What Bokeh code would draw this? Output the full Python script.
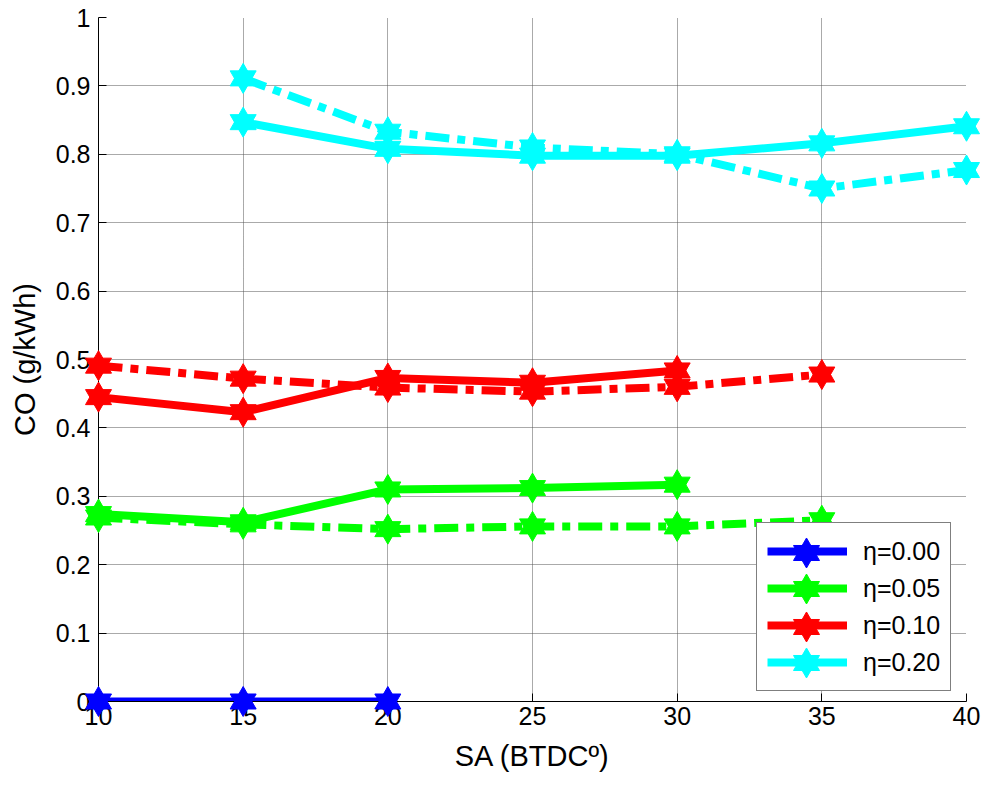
from bokeh.plotting import figure
from bokeh.models import (FixedTicker, CustomJSTickFormatter, Legend, LegendItem, Range1d)
from bokeh.embed import file_html
from bokeh.resources import INLINE

# Axis ticks
x_ticks = [10, 15, 20, 25, 30, 35, 40]
y_ticks = [0, 0.1, 0.2, 0.3, 0.4, 0.5, 0.6, 0.7, 0.8, 0.9, 1.0]

# CO emissions (g/kWh) against spark advance (BTDC deg) for each eta
eta00_solid_x = [10, 15, 20]
eta00_solid_y = [0.0, 0.0, 0.0]

eta05_solid_x = [10, 15, 20, 25, 30]
eta05_solid_y = [0.274, 0.262, 0.310, 0.312, 0.317]
eta05_dash_x = [10, 15, 20, 25, 30, 35]
eta05_dash_y = [0.269, 0.259, 0.252, 0.256, 0.256, 0.265]

eta10_solid_x = [10, 15, 20, 25, 30]
eta10_solid_y = [0.445, 0.423, 0.473, 0.466, 0.484]
eta10_dash_x = [10, 15, 20, 25, 30, 35]
eta10_dash_y = [0.491, 0.472, 0.459, 0.453, 0.460, 0.478]

eta20_solid_x = [15, 20, 25, 30, 35, 40]
eta20_solid_y = [0.847, 0.808, 0.798, 0.798, 0.816, 0.841]
eta20_dash_x = [15, 20, 25, 30, 35, 40]
eta20_dash_y = [0.911, 0.833, 0.810, 0.800, 0.750, 0.777]

labels = ["\u03b7=0.00", "\u03b7=0.05", "\u03b7=0.10", "\u03b7=0.20"]
colors = ["#0000ff", "#00ff00", "#ff0000", "#00ffff"]

series = [
    (eta00_solid_x, eta00_solid_y, None, None),
    (eta05_solid_x, eta05_solid_y, eta05_dash_x, eta05_dash_y),
    (eta10_solid_x, eta10_solid_y, eta10_dash_x, eta10_dash_y),
    (eta20_solid_x, eta20_solid_y, eta20_dash_x, eta20_dash_y),
]

FONT = "Liberation Sans"
LW = 8
MSIZE = 26
DASHDOT = "24 8 8 8"

p = figure(frame_width=868, frame_height=684,
           min_border_left=98, min_border_right=21,
           min_border_top=17, min_border_bottom=86,
           x_range=Range1d(10, 40), y_range=Range1d(0, 1),
           output_backend="svg", toolbar_location=None,
           background_fill_color="white", border_fill_color="white")
p.outline_line_color = None


def hexagram(x, y, color):
    """Six-pointed star built from two overlapping triangles."""
    up = p.scatter(x, y, marker="triangle", size=MSIZE, fill_color=color,
                   line_color=color, line_width=1, level="overlay")
    down = p.scatter(x, y, marker="inverted_triangle", size=MSIZE, fill_color=color,
                     line_color=color, line_width=1, level="overlay")
    return [up, down]


solid_lines = []
marker_sets = []
for (sx, sy, dx, dy), color in zip(series, colors):
    ln = p.line(sx, sy, line_color=color, line_width=LW, line_join="round")
    solid_lines.append(ln)
    marker_sets.append(hexagram(sx, sy, color))
    if dx is not None:
        p.line(dx, dy, line_color=color, line_width=LW, line_dash=DASHDOT,
               line_cap="butt")
        hexagram(dx, dy, color)

# Axes
p.xaxis.ticker = FixedTicker(ticks=x_ticks)
p.yaxis.ticker = FixedTicker(ticks=y_ticks)
p.yaxis.formatter = CustomJSTickFormatter(code="return String(Math.round(tick * 10) / 10)")
p.xaxis.axis_label = "SA (BTDC\u00ba)"
p.yaxis.axis_label = "CO (g/kWh)"
for ax in (p.xaxis[0], p.yaxis[0]):
    ax.axis_line_color = "black"
    ax.axis_line_width = 1
    ax.major_tick_in = 8
    ax.major_tick_out = 0
    ax.major_tick_line_color = "black"
    ax.minor_tick_in = 0
    ax.minor_tick_out = 0
    ax.major_label_text_font = FONT
    ax.major_label_text_font_size = "25px"
    ax.major_label_text_color = "black"
    ax.axis_label_text_font = FONT
    ax.axis_label_text_font_size = "29px"
    ax.axis_label_text_font_style = "normal"
    ax.axis_label_text_color = "black"
p.xaxis.major_label_standoff = 5
p.xaxis.axis_label_standoff = 12
p.yaxis.major_label_standoff = 8
p.yaxis.axis_label_standoff = 12

# Grid
for g in (p.xgrid[0], p.ygrid[0]):
    g.grid_line_color = "#555555"
    g.grid_line_dash = "1 1"
    g.grid_line_width = 1

# Legend: lines with labels
pad, row_h, gap = 10, 36, 1
leg_x, leg_bottom = 658, 10
legend = Legend(
    items=[LegendItem(label=lab, renderers=[ln]) for lab, ln in zip(labels, solid_lines)],
    location=(leg_x, leg_bottom), padding=pad, spacing=gap, margin=0,
    glyph_width=80, glyph_height=row_h, label_height=row_h, label_standoff=16,
    label_text_font=FONT, label_text_font_size="25px", label_text_color="black",
    border_line_color="black", border_line_width=1,
    background_fill_color="white", background_fill_alpha=1.0)
p.add_layout(legend, "center")

# Legend: full-size hexagram markers over each legend line
leg_h = 2 * pad + 4 * row_h + 3 * gap
mk_h = 65
for i, rs in enumerate(marker_sets):
    center_from_bottom = leg_bottom + leg_h - pad - row_h / 2 - i * (row_h + gap)
    mk = Legend(items=[LegendItem(label=" ", renderers=rs)],
                location=(leg_x + pad, int(round(center_from_bottom - mk_h / 2))),
                padding=0, spacing=0, margin=0, glyph_width=80, glyph_height=mk_h,
                label_height=mk_h, label_standoff=0, label_text_font_size="1px",
                border_line_color=None, background_fill_alpha=0)
    p.add_layout(mk, "center")

open("out.html", "w").write(file_html(p, INLINE))
